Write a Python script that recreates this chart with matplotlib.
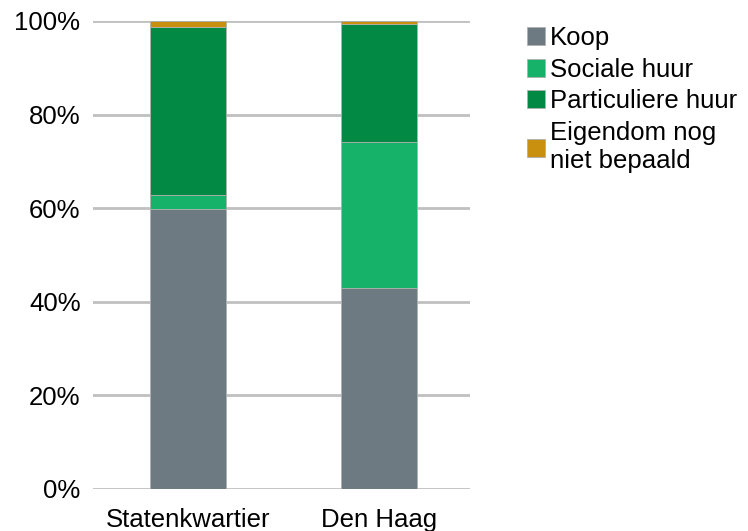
import matplotlib.pyplot as plt
import numpy as np
from matplotlib.ticker import PercentFormatter

plt.rcParams['font.family'] = ['Liberation Sans', 'DejaVu Sans']

categories = ["Statenkwartier", "Den Haag"]
labels = ["Koop", "Sociale huur", "Particuliere huur", "Eigendom nog\nniet bepaald"]
koop = [59.8, 42.9]
sociale = [3.0, 31.3]
particuliere = [36.0, 25.2]
eigendom = [1.2, 0.6]
colors = ["#6D7A82", "#17B26A", "#028A45", "#C8900E"]

series = [koop, sociale, particuliere, eigendom]

fig = plt.figure(figsize=(7.48, 5.31), dpi=100)
ax = fig.add_axes([93 / 748, 1 - 489 / 531, (470 - 93) / 748, (489 - 21) / 531])

x = np.arange(len(categories))
bottom = np.zeros(len(categories))
for vals, lab, col in zip(series, labels, colors):
    ax.bar(x, vals, 0.4, bottom=bottom, color=col, label=lab,
           edgecolor="#B0B0B0", linewidth=0.6, zorder=3)
    bottom += np.array(vals)

ax.set_ylim(0, 100)
ax.set_xlim(-0.5, 1.48)
ax.set_yticks(np.arange(0, 101, 20))
ax.yaxis.set_major_formatter(PercentFormatter(decimals=0))
ax.set_xticks(x)
ax.set_xticklabels(categories)
ax.tick_params(axis="both", length=0, labelsize=18.5, colors="#000000")
ax.tick_params(axis="y", pad=9)
ax.tick_params(axis="x", pad=14)
ax.grid(axis="y", color="#C0C0C0", linewidth=2, zorder=0)
ax.set_axisbelow(True)
for s in ax.spines.values():
    s.set_visible(False)

handles, labs = ax.get_legend_handles_labels()
fig.legend(handles, labs, loc="upper left", bbox_to_anchor=(527 / 748, 1 - 26 / 531),
           frameon=False, fontsize=18.5, handlelength=0.7, handleheight=0.7,
           handletextpad=0.2, labelspacing=0.3, borderaxespad=0, borderpad=0)

fig.savefig("out.png", dpi=100)
